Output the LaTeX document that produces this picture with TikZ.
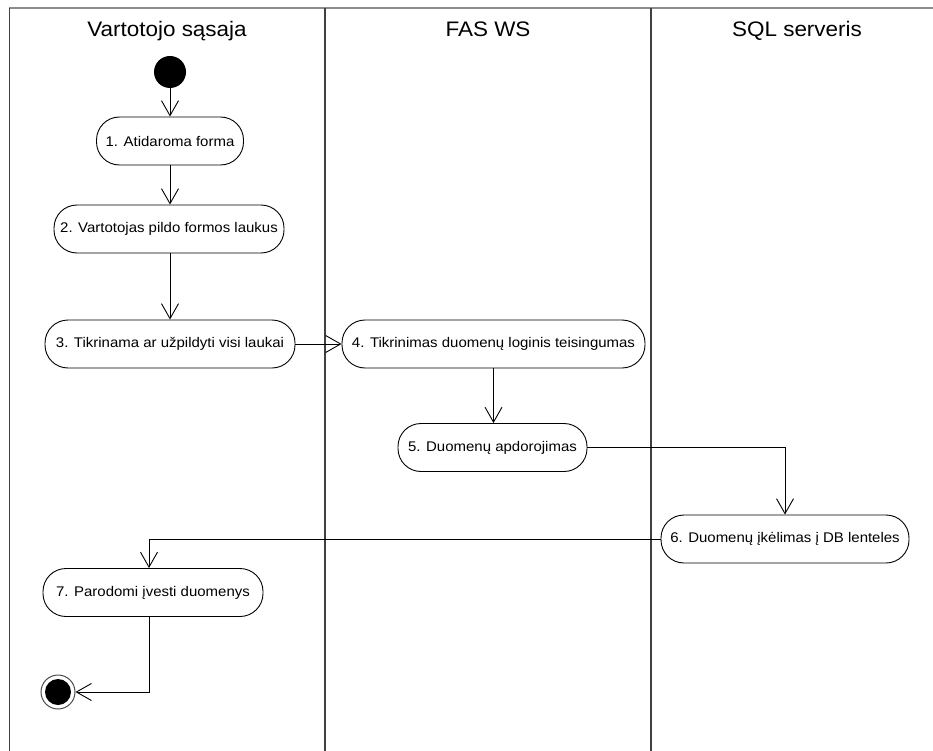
\documentclass[tikz,border=0pt]{standalone}
\usepackage{fontspec}
\setmainfont{Liberation Sans}[FakeStretch=1.07]
\usetikzlibrary{arrows.meta}

\begin{document}
\begin{tikzpicture}[x=1pt,y=-1pt,
  act/.style={draw, line width=0.9pt, rounded corners=23pt, minimum height=48pt,
              inner sep=0pt, font=\fontsize{14}{16}\selectfont},
  flow/.style={draw, line width=0.9pt,
               -{Straight Barb[length=15pt,width=17pt,line width=0.9pt]}},
  lane/.style={line width=1.4pt, draw=black!75},
  lanetitle/.style={font=\fontsize{21}{24}\selectfont, anchor=base, inner sep=0pt},
  startnode/.style={circle, fill=black, minimum size=32pt, inner sep=0pt},
  endnode/.style={circle, draw=black!70, line width=1pt, minimum size=34pt, inner sep=0pt,
                  path picture={\fill[black] (path picture bounding box.center) circle (13pt);}}]

\useasboundingbox (0,0) rectangle (933,751);

% swimlanes
\draw[draw=black!45, line width=1.6pt] (9,8) -- (933,8);
\draw[lane] (9.5,8) -- (9.5,751);
\draw[lane] (325,8) -- (325,751);
\draw[lane] (651,8) -- (651,751);

\node[lanetitle] (t1) at (167,37) {Vartotojo sąsaja};
\node[lanetitle] (t2) at (488,37) {FAS WS};
\node[lanetitle] (t3) at (797,37) {SQL serveris};

% activities
\node[startnode] (start) at (170,72) {};
\node[act, minimum width=147pt] (n1) at (170,141) {1. Atidaroma forma};
\node[act, minimum width=230pt] (n2) at (169,229) {2. Vartotojas pildo formos laukus};
\node[act, minimum width=250pt] (n3) at (170,344) {3. Tikrinama ar užpildyti visi laukai};
\node[act, minimum width=303pt] (n4) at (493.5,344) {4. Tikrinimas duomenų loginis teisingumas};
\node[act, minimum width=189pt] (n5) at (492.5,447.5) {5. Duomenų apdorojimas};
\node[act, minimum width=248pt] (n6) at (785,539) {6. Duomenų įkėlimas į DB lenteles};
\node[act, minimum width=220pt] (n7) at (153,592.5) {7. Parodomi įvesti duomenys};
\node[endnode] (end) at (58,692) {};

% transitions
\draw[flow] (start) -- (n1);
\draw[flow] (n1) -- (n2.north -| n1.south);
\draw[flow] (n2.south -| n1.south) -- (n3);
\draw[flow] (n3) -- (n4);
\draw[flow] (n4.south) -- (n5.north -| n4.south);
\draw[flow] (n5.east) -| (n6.north);
\draw[flow] (n6.west) -| ([xshift=-4pt]n7.north);
\draw[flow] ([xshift=-4pt]n7.south) |- (end.east);
\end{tikzpicture}
\end{document}
